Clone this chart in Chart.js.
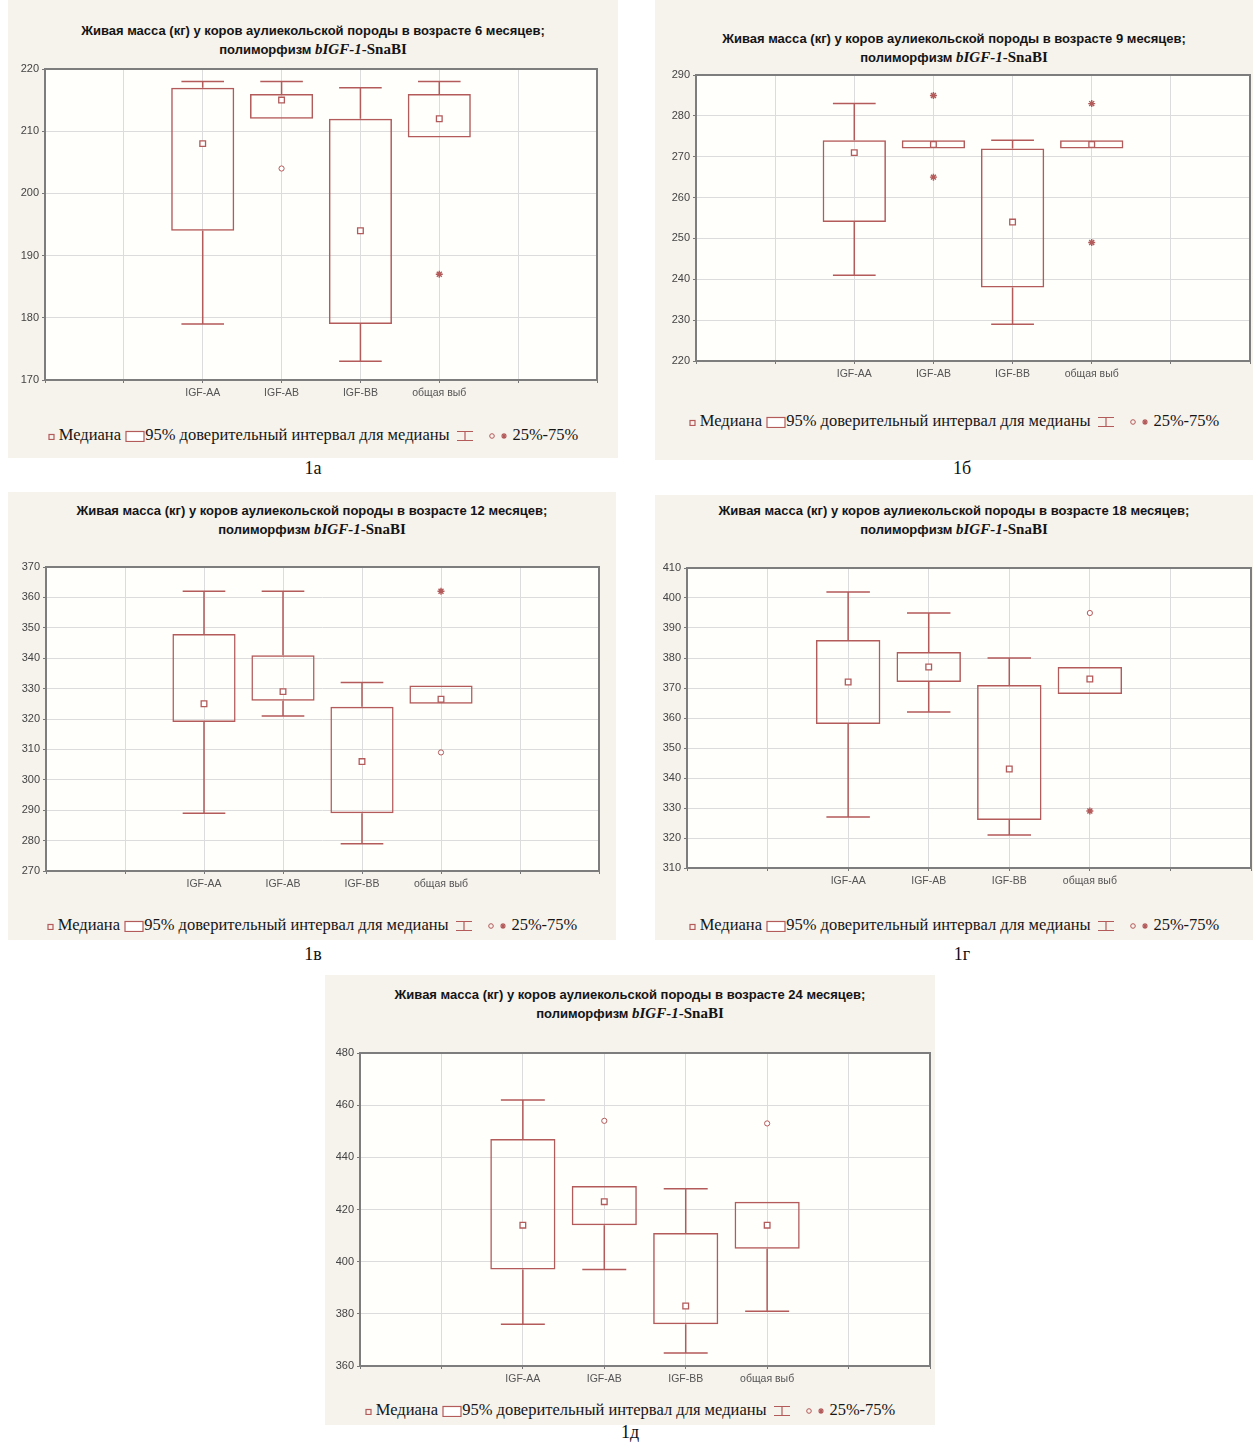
<!DOCTYPE html>
<html>
<head>
<meta charset="utf-8">
<script src="https://cdn.jsdelivr.net/npm/chart.js@4"></script>
<style>
  body { margin: 0; background: #fff; width: 1253px; height: 1446px; position: relative; overflow: hidden; }
  .panel { position: absolute; background: #f6f2ec; }
  .ttl { position: absolute; left: 0; right: 0; text-align: center; color: #141414; white-space: nowrap; transform: translateY(-50%); }
  .t1 { font: bold 13px "Liberation Sans", Arial, sans-serif; }
  .t2 { font: bold 13px "Liberation Sans", Arial, sans-serif; }
  .t2 .sr { font: bold 15px "Liberation Serif", "Times New Roman", serif; }
  .t2 .it { font-style: italic; }
  .legend { position: absolute; left: 0; right: 0; text-align: center; white-space: nowrap; transform: translateY(-50%);
            font: 16.5px "Liberation Serif", "Times New Roman", serif; color: #161616; }
  .legend svg { vertical-align: middle; }
  .lbl { position: absolute; font: 18px "Liberation Serif", "Times New Roman", serif; color: #111; transform: translate(-50%, -50%); }
  .wrap { position: absolute; }
</style>
</head>
<body>
<script>
// Живая масса (кг), полиморфизм bIGF-1-SnaBI
const groups = ['IGF-AA', 'IGF-AB', 'IGF-BB', 'общая выб'];

// 6 месяцев
const m6Median = [208, 215, 194, 212];
const m6BoxLow = [194, 212, 179, 209];
const m6BoxHigh = [217, 216, 212, 216];
const m6WhiskLow = [179, 212, 173, 209];
const m6WhiskHigh = [218, 218, 217, 218];
const m6Circles = [[1, 204]];
const m6Stars = [[3, 187]];

// 9 месяцев
const m9Median = [271, 273, 254, 273];
const m9BoxLow = [254, 272, 238, 272];
const m9BoxHigh = [274, 274, 272, 274];
const m9WhiskLow = [241, 272, 229, 272];
const m9WhiskHigh = [283, 274, 274, 274];
const m9Circles = [];
const m9Stars = [[1, 285], [1, 265], [3, 283], [3, 249]];

// 12 месяцев
const m12Median = [325, 329, 306, 326.5];
const m12BoxLow = [319, 326, 289, 325];
const m12BoxHigh = [348, 341, 324, 331];
const m12WhiskLow = [289, 321, 279, 325];
const m12WhiskHigh = [362, 362, 332, 331];
const m12Circles = [[3, 309]];
const m12Stars = [[3, 362]];

// 18 месяцев
const m18Median = [372, 377, 343, 373];
const m18BoxLow = [358, 372, 326, 368];
const m18BoxHigh = [386, 382, 371, 377];
const m18WhiskLow = [327, 362, 321, 368];
const m18WhiskHigh = [402, 395, 380, 377];
const m18Circles = [[3, 395]];
const m18Stars = [[3, 329]];

// 24 месяца
const m24Median = [414, 423, 383, 414];
const m24BoxLow = [397, 414, 376, 405];
const m24BoxHigh = [447, 429, 411, 423];
const m24WhiskLow = [376, 397, 365, 381];
const m24WhiskHigh = [462, 429, 428, 423];
const m24Circles = [[1, 454], [3, 453]];
const m24Stars = [];

const RED = '#b35a5a';

var panels = [
  { age: 6, label: '1а', box: [8, 0, 610, 458], plot: [45, 69, 597, 380], titleY: [30, 49], legendY: 435, labelAt: [313, 468],
    yMin: 170, yMax: 220, step: 10,
    med: m6Median, lo: m6BoxLow, hi: m6BoxHigh, wlo: m6WhiskLow, whi: m6WhiskHigh, circ: m6Circles, star: m6Stars },
  { age: 9, label: '1б', box: [655, 0, 598, 460], plot: [696, 75, 1250, 361], titleY: [38, 57], legendY: 421, labelAt: [962, 468],
    yMin: 220, yMax: 290, step: 10,
    med: m9Median, lo: m9BoxLow, hi: m9BoxHigh, wlo: m9WhiskLow, whi: m9WhiskHigh, circ: m9Circles, star: m9Stars },
  { age: 12, label: '1в', box: [8, 492, 608, 448], plot: [46, 567, 599, 871], titleY: [510, 529], legendY: 925, labelAt: [313, 954],
    yMin: 270, yMax: 370, step: 10,
    med: m12Median, lo: m12BoxLow, hi: m12BoxHigh, wlo: m12WhiskLow, whi: m12WhiskHigh, circ: m12Circles, star: m12Stars },
  { age: 18, label: '1г', box: [655, 495, 598, 445], plot: [687, 568, 1251, 868], titleY: [510, 529], legendY: 925, labelAt: [962, 954],
    yMin: 310, yMax: 410, step: 10,
    med: m18Median, lo: m18BoxLow, hi: m18BoxHigh, wlo: m18WhiskLow, whi: m18WhiskHigh, circ: m18Circles, star: m18Stars },
  { age: 24, label: '1д', box: [325, 975, 610, 450], plot: [360, 1053, 930, 1366], titleY: [994, 1013], legendY: 1410, labelAt: [630, 1432],
    yMin: 360, yMax: 480, step: 20,
    med: m24Median, lo: m24BoxLow, hi: m24BoxHigh, wlo: m24WhiskLow, whi: m24WhiskHigh, circ: m24Circles, star: m24Stars }
];

const legendHtml =
  '<svg width="7" height="7"><rect x="1" y="1.5" width="5" height="5" fill="none" stroke="' + RED + '" stroke-width="1.2"/></svg> Медиана ' +
  '<svg width="20" height="12"><rect x="1" y="1.5" width="18" height="10" fill="#fff" stroke="' + RED + '" stroke-width="1.2"/></svg>95% доверительный интервал для медианы ' +
  '<svg width="22" height="14"><path d="M3 2.5H19M11 2.5V11.5M3 11.5H19" fill="none" stroke="' + RED + '" stroke-width="1.2"/></svg> &nbsp; ' +
  '<svg width="8" height="8"><circle cx="4" cy="4" r="2.3" fill="none" stroke="' + RED + '" stroke-width="1"/></svg> ' +
  '<svg width="8" height="8"><path d="M4 1V7M1 4H7M2 2L6 6M6 2L2 6" stroke="' + RED + '" stroke-width="1.2"/></svg> 25%-75%';

// frame + white plot background
const framePlugin = {
  id: 'frame',
  beforeDraw(chart) {
    const a = chart.chartArea, ctx = chart.ctx;
    ctx.save();
    ctx.fillStyle = '#fffffb';
    ctx.fillRect(a.left, a.top, a.right - a.left, a.bottom - a.top);
    ctx.restore();
  },
  beforeDatasetsDraw(chart) {
    const a = chart.chartArea, ctx = chart.ctx;
    ctx.save();
    ctx.strokeStyle = '#7d7d7d';
    ctx.lineWidth = 2;
    ctx.strokeRect(a.left, a.top, a.right - a.left, a.bottom - a.top);
    ctx.restore();
  }
};

function buildPanel(p) {
  const panel = document.createElement('div');
  panel.className = 'panel';
  panel.style.left = p.box[0] + 'px';
  panel.style.top = p.box[1] + 'px';
  panel.style.width = p.box[2] + 'px';
  panel.style.height = p.box[3] + 'px';
  document.body.appendChild(panel);

  let t1 = document.createElement('div');
  t1.className = 'ttl t1';
  t1.style.top = (p.titleY[0] - p.box[1]) + 'px';
  t1.textContent = 'Живая масса (кг) у коров аулиекольской породы в возрасте ' + p.age + ' месяцев;';
  panel.appendChild(t1);

  let t2 = document.createElement('div');
  t2.className = 'ttl t2';
  t2.style.top = (p.titleY[1] - p.box[1]) + 'px';
  t2.innerHTML = 'полиморфизм <span class="sr it">bIGF-1</span><span class="sr">-SnaBI</span>';
  panel.appendChild(t2);

  let lg = document.createElement('div');
  lg.className = 'legend';
  lg.style.top = (p.legendY - p.box[1]) + 'px';
  lg.innerHTML = legendHtml;
  panel.appendChild(lg);

  let lb = document.createElement('div');
  lb.className = 'lbl';
  lb.style.left = p.labelAt[0] + 'px';
  lb.style.top = p.labelAt[1] + 'px';
  lb.textContent = p.label;
  document.body.appendChild(lb);

  const plotW = p.plot[2] - p.plot[0];
  const plotH = p.plot[3] - p.plot[1];
  const wrap = document.createElement('div');
  wrap.className = 'wrap';
  wrap.style.left = (p.plot[0] - 40) + 'px';
  wrap.style.top = (p.plot[1] - 10) + 'px';
  const canvas = document.createElement('canvas');
  canvas.width = plotW + 50;
  canvas.height = plotH + 40;
  canvas.style.width = canvas.width + 'px';
  canvas.style.height = canvas.height + 'px';
  wrap.appendChild(canvas);
  document.body.appendChild(wrap);

  // whisker stems and caps, broken with gaps
  const cap = 0.27;
  let whisk = [];
  groups.forEach((g, i) => {
    const x = i + 2;
    if (p.whi[i] > p.hi[i]) {
      whisk.push({ x: x, y: p.hi[i] }, { x: x, y: p.whi[i] }, { x: x, y: null });
      whisk.push({ x: x - cap, y: p.whi[i] }, { x: x + cap, y: p.whi[i] }, { x: x, y: null });
    }
    if (p.wlo[i] < p.lo[i]) {
      whisk.push({ x: x, y: p.lo[i] }, { x: x, y: p.wlo[i] }, { x: x, y: null });
      whisk.push({ x: x - cap, y: p.wlo[i] }, { x: x + cap, y: p.wlo[i] }, { x: x, y: null });
    }
  });

  new Chart(canvas, {
    type: 'scatter',
    data: {
      datasets: [
        {
          type: 'bar',
          data: groups.map((g, i) => ({ x: i + 2, y: [p.lo[i], p.hi[i]] })),
          backgroundColor: 'rgba(255,255,255,0)',
          borderColor: RED,
          borderWidth: 1.5,
          borderSkipped: false,
          barPercentage: 0.8,
          categoryPercentage: 1,
          grouped: false
        },
        {
          type: 'line',
          data: whisk,
          borderColor: RED,
          borderWidth: 1.5,
          pointRadius: 0,
          fill: false,
          spanGaps: false
        },
        {
          data: groups.map((g, i) => ({ x: i + 2, y: p.med[i] })),
          pointStyle: 'rect',
          pointRadius: 4,
          borderColor: RED,
          backgroundColor: '#fff',
          borderWidth: 1.3
        },
        {
          data: p.circ.map(c => ({ x: c[0] + 2, y: c[1] })),
          pointStyle: 'circle',
          pointRadius: 2.6,
          borderColor: RED,
          backgroundColor: '#fff',
          borderWidth: 1
        },
        {
          data: p.star.map(c => ({ x: c[0] + 2, y: c[1] })),
          pointStyle: 'star',
          pointRadius: 3.5,
          borderColor: RED,
          backgroundColor: RED,
          borderWidth: 1.4
        }
      ]
    },
    plugins: [framePlugin],
    options: {
      responsive: false,
      animation: false,
      devicePixelRatio: 1,
      layout: { padding: { left: 0, top: 10, right: 10, bottom: 0 } },
      plugins: { legend: { display: false }, tooltip: { enabled: false } },
      scales: {
        x: {
          type: 'linear',
          min: 0,
          max: 7,
          offset: false,
          afterFit: (s) => { s.height = 30; },
          grid: { offset: false, color: '#dcdcdc', lineWidth: 1, tickLength: 3, tickColor: '#777' },
          border: { display: false },
          ticks: {
            stepSize: 1,
            autoSkip: false,
            maxRotation: 0,
            padding: 4,
            color: '#555',
            font: { family: '"Liberation Sans", Arial, sans-serif', size: 10.5 },
            callback: (v) => groups[v - 2] || ''
          }
        },
        y: {
          min: p.yMin,
          max: p.yMax,
          afterFit: (s) => { s.width = 40; },
          grid: { color: '#dcdcdc', lineWidth: 1, tickLength: 3, tickColor: '#777' },
          border: { display: false },
          ticks: {
            stepSize: p.step,
            padding: 3,
            color: '#444',
            font: { family: '"Liberation Sans", Arial, sans-serif', size: 11 }
          }
        }
      }
    }
  });
}

panels.forEach(buildPanel);
</script>
</body>
</html>
